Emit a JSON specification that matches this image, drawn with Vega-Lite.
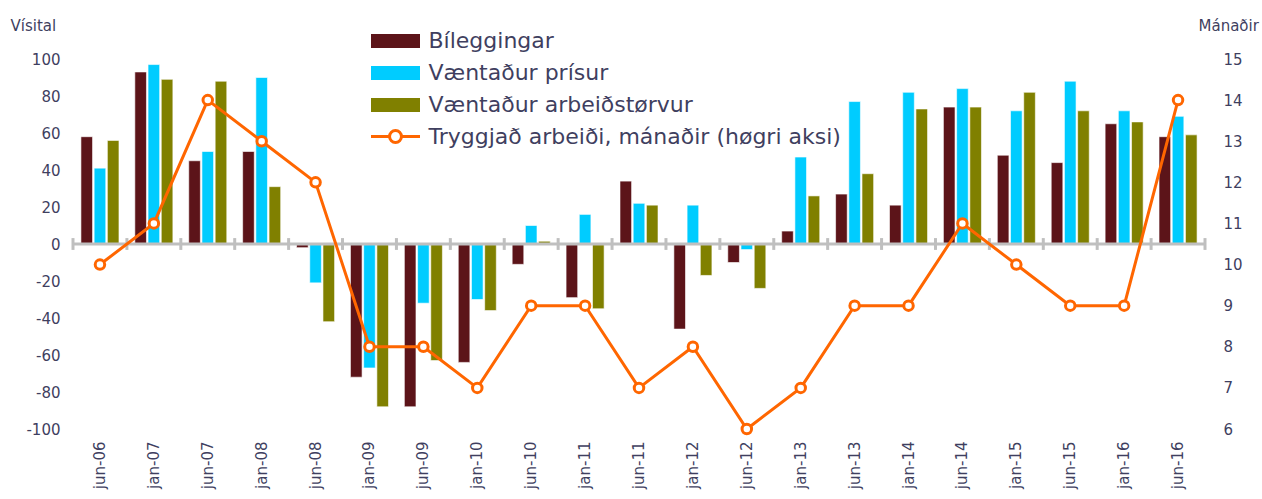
{
  "$schema": "https://vega.github.io/schema/vega-lite/v6.json",
  "width": 1132,
  "height": 370,
  "autosize": {"type": "none"},
  "padding": {"left": 73, "top": 59, "right": 57, "bottom": 70},
  "background": "white",
  "config": {
    "view": {"stroke": null},
    "font": "DejaVu Sans",
    "axis": {
      "labelFont": "DejaVu Sans", "labelFontSize": 15, "labelColor": "#3f3f5f",
      "titleFont": "DejaVu Sans", "titleFontSize": 15, "titleFontWeight": "normal", "titleColor": "#3f3f5f",
      "grid": false, "domain": false, "ticks": false, "labelOverlap": false
    },
    "axisY": {"labelOverlap": false},
    "axisQuantitative": {"labelOverlap": false}
  },
  "datasets": {
    "bars": [
      {"cat": "jun-06", "series": "Bíleggingar", "value": 58}, {"cat": "jun-06", "series": "Væntaður prísur", "value": 41}, {"cat": "jun-06", "series": "Væntaður arbeiðstørvur", "value": 56},
      {"cat": "jan-07", "series": "Bíleggingar", "value": 93}, {"cat": "jan-07", "series": "Væntaður prísur", "value": 97}, {"cat": "jan-07", "series": "Væntaður arbeiðstørvur", "value": 89},
      {"cat": "jun-07", "series": "Bíleggingar", "value": 45}, {"cat": "jun-07", "series": "Væntaður prísur", "value": 50}, {"cat": "jun-07", "series": "Væntaður arbeiðstørvur", "value": 88},
      {"cat": "jan-08", "series": "Bíleggingar", "value": 50}, {"cat": "jan-08", "series": "Væntaður prísur", "value": 90}, {"cat": "jan-08", "series": "Væntaður arbeiðstørvur", "value": 31},
      {"cat": "jun-08", "series": "Bíleggingar", "value": -2}, {"cat": "jun-08", "series": "Væntaður prísur", "value": -21}, {"cat": "jun-08", "series": "Væntaður arbeiðstørvur", "value": -42},
      {"cat": "jan-09", "series": "Bíleggingar", "value": -72}, {"cat": "jan-09", "series": "Væntaður prísur", "value": -67}, {"cat": "jan-09", "series": "Væntaður arbeiðstørvur", "value": -88},
      {"cat": "jun-09", "series": "Bíleggingar", "value": -88}, {"cat": "jun-09", "series": "Væntaður prísur", "value": -32}, {"cat": "jun-09", "series": "Væntaður arbeiðstørvur", "value": -63},
      {"cat": "jan-10", "series": "Bíleggingar", "value": -64}, {"cat": "jan-10", "series": "Væntaður prísur", "value": -30}, {"cat": "jan-10", "series": "Væntaður arbeiðstørvur", "value": -36},
      {"cat": "jun-10", "series": "Bíleggingar", "value": -11}, {"cat": "jun-10", "series": "Væntaður prísur", "value": 10}, {"cat": "jun-10", "series": "Væntaður arbeiðstørvur", "value": 1.5},
      {"cat": "jan-11", "series": "Bíleggingar", "value": -29}, {"cat": "jan-11", "series": "Væntaður prísur", "value": 16}, {"cat": "jan-11", "series": "Væntaður arbeiðstørvur", "value": -35},
      {"cat": "jun-11", "series": "Bíleggingar", "value": 34}, {"cat": "jun-11", "series": "Væntaður prísur", "value": 22}, {"cat": "jun-11", "series": "Væntaður arbeiðstørvur", "value": 21},
      {"cat": "jan-12", "series": "Bíleggingar", "value": -46}, {"cat": "jan-12", "series": "Væntaður prísur", "value": 21}, {"cat": "jan-12", "series": "Væntaður arbeiðstørvur", "value": -17},
      {"cat": "jun-12", "series": "Bíleggingar", "value": -10}, {"cat": "jun-12", "series": "Væntaður prísur", "value": -3}, {"cat": "jun-12", "series": "Væntaður arbeiðstørvur", "value": -24},
      {"cat": "jan-13", "series": "Bíleggingar", "value": 7}, {"cat": "jan-13", "series": "Væntaður prísur", "value": 47}, {"cat": "jan-13", "series": "Væntaður arbeiðstørvur", "value": 26},
      {"cat": "jun-13", "series": "Bíleggingar", "value": 27}, {"cat": "jun-13", "series": "Væntaður prísur", "value": 77}, {"cat": "jun-13", "series": "Væntaður arbeiðstørvur", "value": 38},
      {"cat": "jan-14", "series": "Bíleggingar", "value": 21}, {"cat": "jan-14", "series": "Væntaður prísur", "value": 82}, {"cat": "jan-14", "series": "Væntaður arbeiðstørvur", "value": 73},
      {"cat": "jun-14", "series": "Bíleggingar", "value": 74}, {"cat": "jun-14", "series": "Væntaður prísur", "value": 84}, {"cat": "jun-14", "series": "Væntaður arbeiðstørvur", "value": 74},
      {"cat": "jan-15", "series": "Bíleggingar", "value": 48}, {"cat": "jan-15", "series": "Væntaður prísur", "value": 72}, {"cat": "jan-15", "series": "Væntaður arbeiðstørvur", "value": 82},
      {"cat": "jun-15", "series": "Bíleggingar", "value": 44}, {"cat": "jun-15", "series": "Væntaður prísur", "value": 88}, {"cat": "jun-15", "series": "Væntaður arbeiðstørvur", "value": 72},
      {"cat": "jan-16", "series": "Bíleggingar", "value": 65}, {"cat": "jan-16", "series": "Væntaður prísur", "value": 72}, {"cat": "jan-16", "series": "Væntaður arbeiðstørvur", "value": 66},
      {"cat": "jun-16", "series": "Bíleggingar", "value": 58}, {"cat": "jun-16", "series": "Væntaður prísur", "value": 69}, {"cat": "jun-16", "series": "Væntaður arbeiðstørvur", "value": 59}
    ],
    "line": [
      {"cat": "jun-06", "months": 10}, {"cat": "jan-07", "months": 11}, {"cat": "jun-07", "months": 14},
      {"cat": "jan-08", "months": 13}, {"cat": "jun-08", "months": 12}, {"cat": "jan-09", "months": 8},
      {"cat": "jun-09", "months": 8}, {"cat": "jan-10", "months": 7}, {"cat": "jun-10", "months": 9},
      {"cat": "jan-11", "months": 9}, {"cat": "jun-11", "months": 7}, {"cat": "jan-12", "months": 8},
      {"cat": "jun-12", "months": 6}, {"cat": "jan-13", "months": 7}, {"cat": "jun-13", "months": 9},
      {"cat": "jan-14", "months": 9}, {"cat": "jun-14", "months": 11}, {"cat": "jan-15", "months": 10},
      {"cat": "jun-15", "months": 9}, {"cat": "jan-16", "months": 9}, {"cat": "jun-16", "months": 14}
    ]
  },
  "layer": [
    {
      "layer": [
        {
          "data": {"name": "bars"},
          "mark": {"type": "bar", "stroke": "white", "strokeWidth": 0.6},
          "encoding": {
            "x": {
              "field": "cat", "type": "nominal",
              "scale": {"domain": ["jun-06","jan-07","jun-07","jan-08","jun-08","jan-09","jun-09","jan-10","jun-10","jan-11","jun-11","jan-12","jun-12","jan-13","jun-13","jan-14","jun-14","jan-15","jun-15","jan-16","jun-16"], "paddingInner": 0, "paddingOuter": 0},
              "axis": {"title": null, "labelAngle": -90, "labelPadding": 12}
            },
            "xOffset": {
              "field": "series", "type": "nominal",
              "sort": ["Bíleggingar", "Væntaður prísur", "Væntaður arbeiðstørvur"],
              "scale": {"paddingInner": 0.12, "paddingOuter": 0.6}
            },
            "y": {
              "field": "value", "type": "quantitative",
              "scale": {"domain": [-100, 100], "nice": false, "zero": false},
              "axis": {"values": [-100,-80,-60,-40,-20,0,20,40,60,80,100], "labelOverlap": false, "labelExpr": "replace(datum.label, '−', '-')", "title": "Vísital", "titleAngle": 0, "titleX": -63, "titleY": -34, "titleAlign": "left", "titleBaseline": "middle", "labelPadding": 13}
            },
            "fill": {
              "field": "series", "type": "nominal",
              "sort": ["Bíleggingar", "Væntaður prísur", "Væntaður arbeiðstørvur"],
              "scale": {"domain": ["Bíleggingar", "Væntaður prísur", "Væntaður arbeiðstørvur"], "range": ["#5c1419", "#00ccff", "#808000"]},
              "legend": {"orient": "none", "legendX": 311.5, "legendY": -29, "title": null, "symbolType": "M-3.5,-1H3.5V1H-3.5Z", "symbolSize": 196, "symbolStrokeWidth": 0, "labelFont": "DejaVu Sans", "labelFontSize": 22, "labelColor": "#3f3f5f", "labelOffset": 22, "rowPadding": 10, "padding": 0, "labelLimit": 600}
            }
          }
        },
        {
          "data": {"values": [{}]},
          "mark": {"type": "rule", "color": "#bfbfbf", "strokeWidth": 3},
          "encoding": {"y": {"datum": 0, "type": "quantitative", "axis": {"values": [-100,-80,-60,-40,-20,0,20,40,60,80,100], "labelOverlap": false, "labelExpr": "replace(datum.label, '−', '-')", "title": "Vísital", "titleAngle": 0, "titleX": -63, "titleY": -34, "titleAlign": "left", "titleBaseline": "middle", "labelPadding": 13}}}
        },
        {
          "data": {"name": "line"},
          "mark": {"type": "rule", "color": "#bfbfbf", "strokeWidth": 3},
          "encoding": {
            "x": {"field": "cat", "type": "nominal", "bandPosition": 0},
            "y": {"datum": -3.2, "type": "quantitative", "axis": {"values": [-100,-80,-60,-40,-20,0,20,40,60,80,100], "labelOverlap": false, "labelExpr": "replace(datum.label, '−', '-')", "title": "Vísital", "titleAngle": 0, "titleX": -63, "titleY": -34, "titleAlign": "left", "titleBaseline": "middle", "labelPadding": 13}},
            "y2": {"datum": 3.2}
          }
        },
        {
          "data": {"name": "line"},
          "transform": [{"filter": "datum.cat == 'jun-16'"}],
          "mark": {"type": "rule", "color": "#bfbfbf", "strokeWidth": 3},
          "encoding": {
            "x": {"field": "cat", "type": "nominal", "bandPosition": 1},
            "y": {"datum": -3.2, "type": "quantitative", "axis": {"values": [-100,-80,-60,-40,-20,0,20,40,60,80,100], "labelOverlap": false, "labelExpr": "replace(datum.label, '−', '-')", "title": "Vísital", "titleAngle": 0, "titleX": -63, "titleY": -34, "titleAlign": "left", "titleBaseline": "middle", "labelPadding": 13}},
            "y2": {"datum": 3.2}
          }
        }
      ]
    },
    {
      "data": {"name": "line"},
      "mark": {"type": "line", "strokeWidth": 3, "point": {"filled": false, "fill": "white", "size": 90, "strokeWidth": 3}},
      "encoding": {
        "x": {"field": "cat", "type": "nominal"},
        "y": {
          "field": "months", "type": "quantitative",
          "scale": {"domain": [6, 15], "nice": false, "zero": false},
          "axis": {"orient": "right", "values": [6,7,8,9,10,11,12,13,14,15], "labelOverlap": false, "title": "Mánaðir", "titleAngle": 0, "titleX": -7, "titleY": -34, "titleAlign": "left", "titleBaseline": "middle", "labelPadding": 18}
        },
        "stroke": {
          "datum": "Tryggjað arbeiði, mánaðir (høgri aksi)",
          "scale": {"range": ["#ff6600"]},
          "legend": {"orient": "none", "legendX": 311.5, "legendY": 66.5, "title": null, "symbolType": "M-3.5,0H-0.85M0.85,0H3.5M-0.85,0A0.85,0.85 0 1,1 0.85,0A0.85,0.85 0 1,1 -0.85,0", "symbolSize": 196, "symbolStrokeWidth": 3, "symbolFillColor": "white", "labelFont": "DejaVu Sans", "labelFontSize": 22, "labelColor": "#3f3f5f", "labelOffset": 22, "padding": 0, "labelLimit": 600}
        }
      }
    }
  ],
  "resolve": {"scale": {"y": "independent"}}
}
